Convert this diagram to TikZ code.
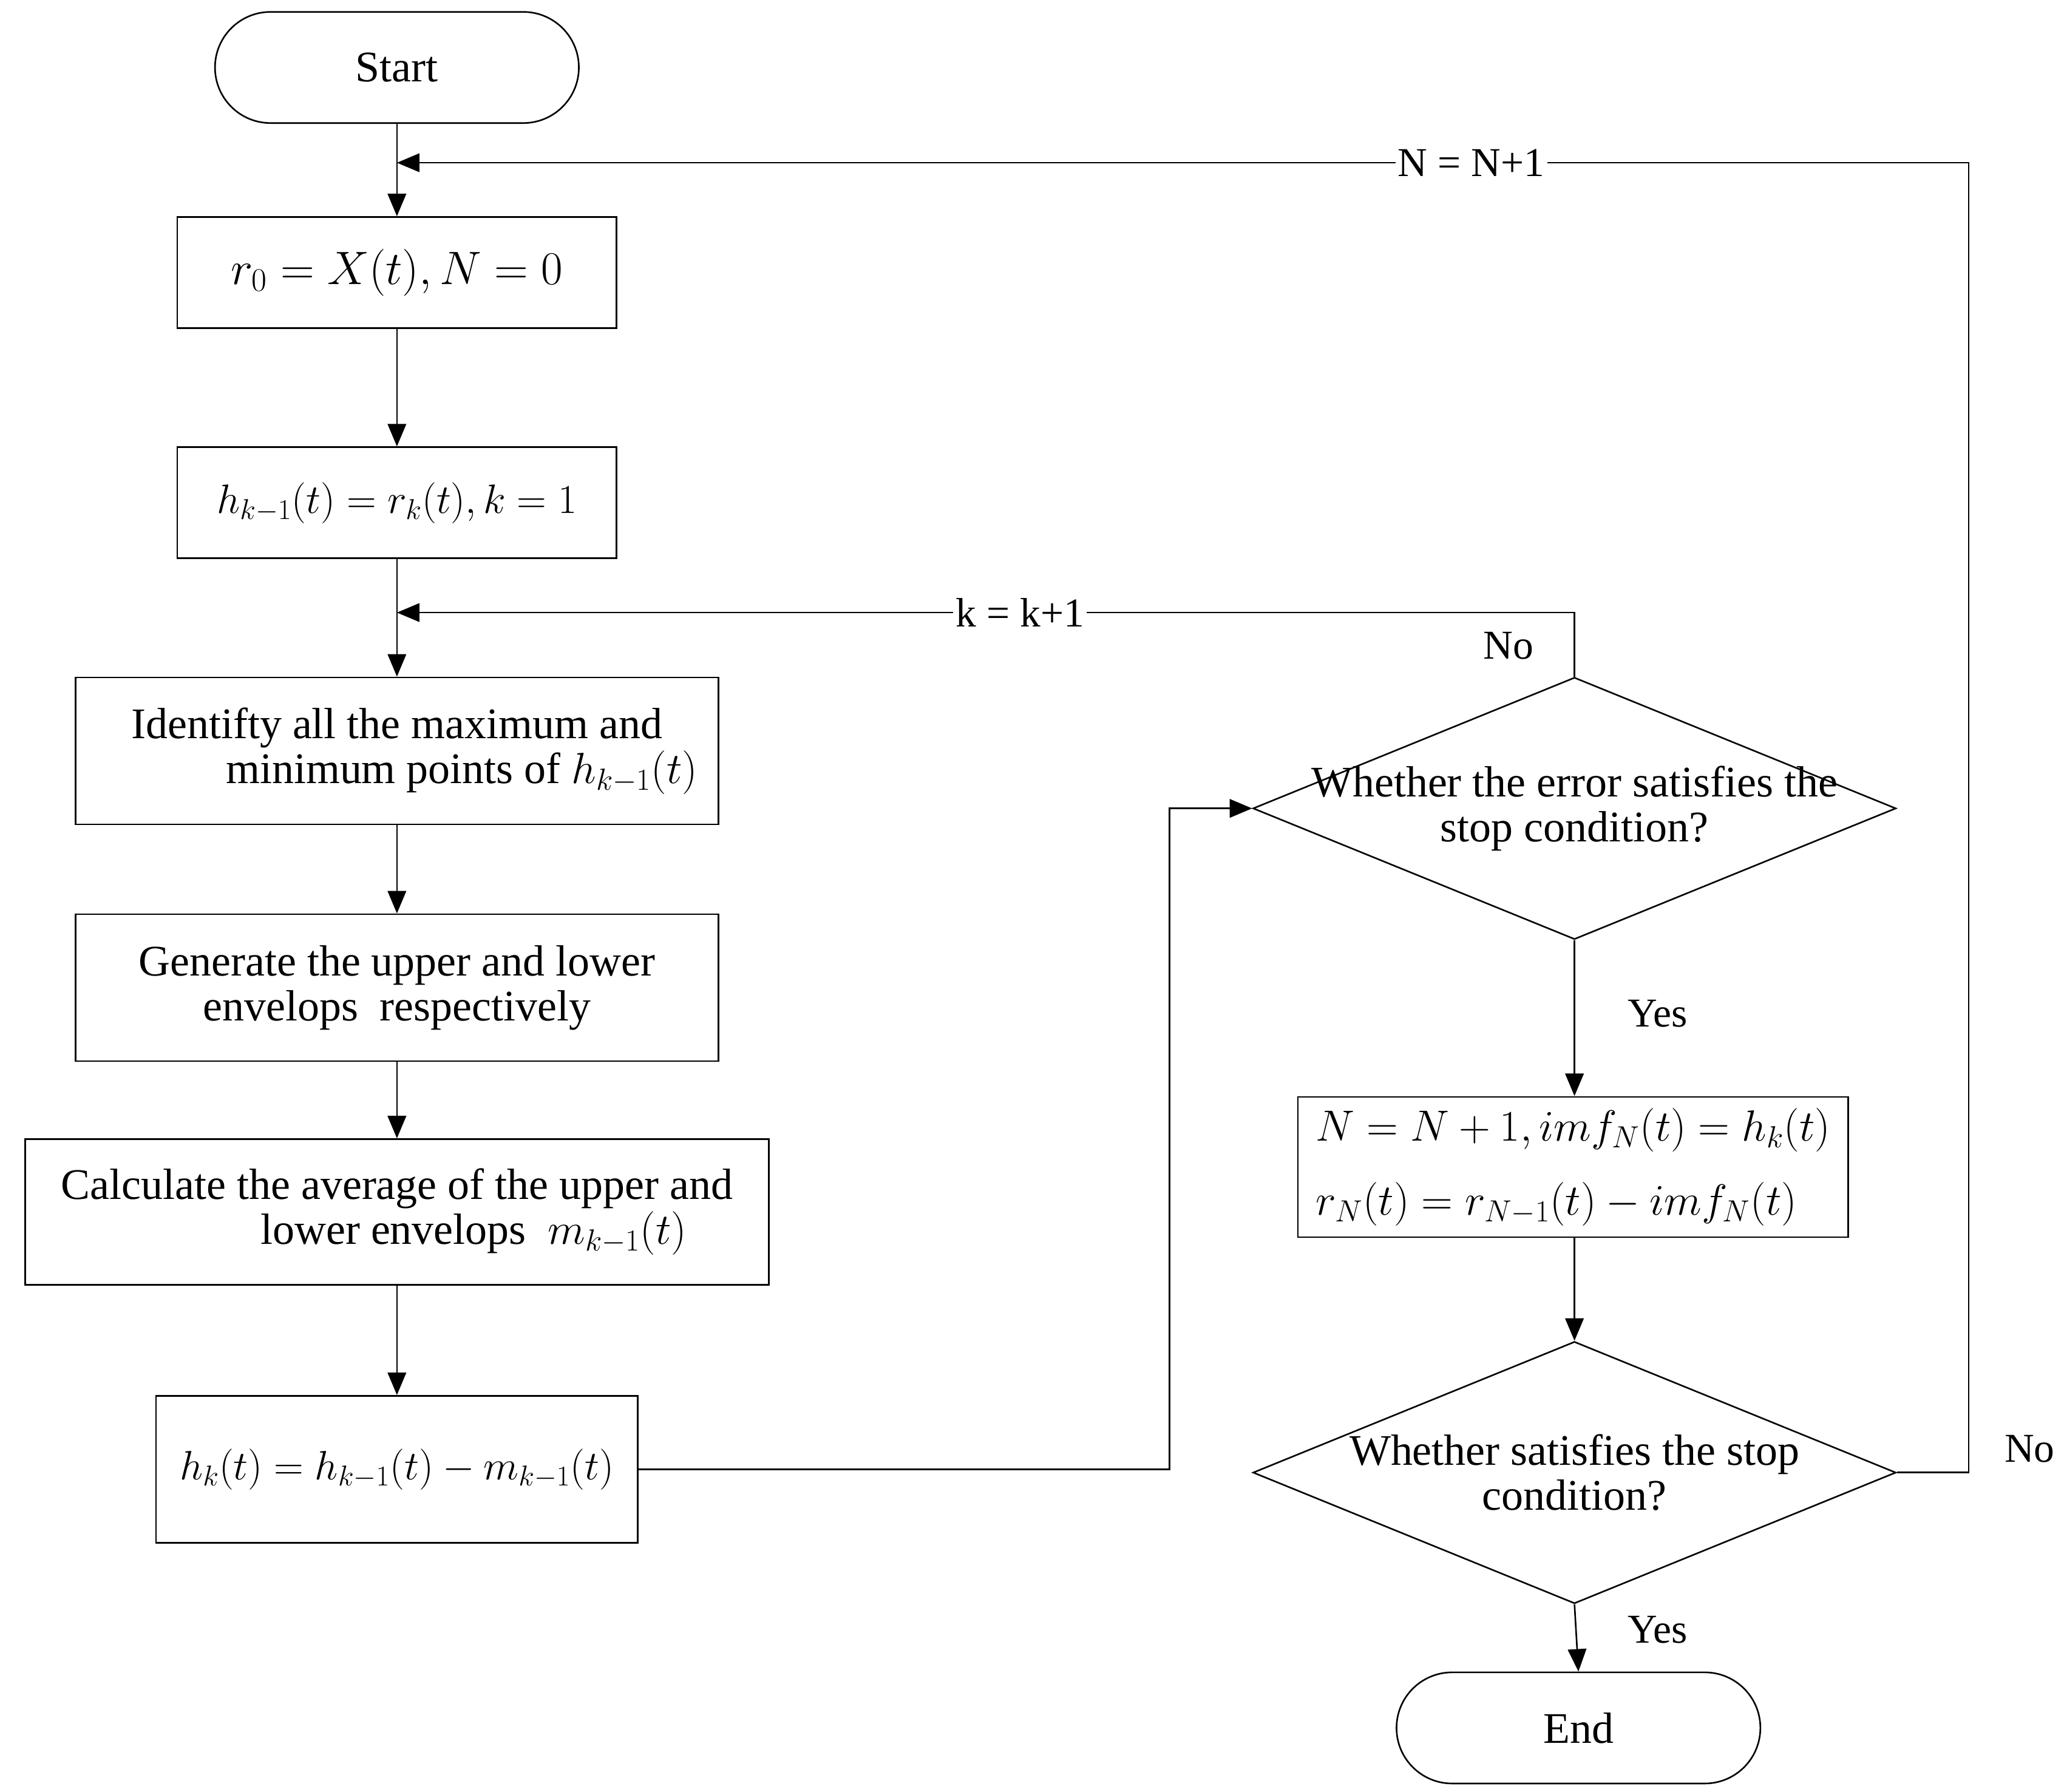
\RequirePackage{fix-cm}
\documentclass[tikz,border=0pt]{standalone}
\usepackage{fontspec}
\setmainfont{Liberation Serif}
\usetikzlibrary{shapes.geometric,arrows.meta}
\begin{document}
\begin{tikzpicture}[x=1pt,y=-1pt,
  every node/.style={font=\fontsize{33}{34}\selectfont},
  proc/.style={draw, line width=1.2pt, rectangle, inner sep=0pt, align=center},
  term/.style={draw, line width=1.2pt, rectangle, rounded corners=42pt, minimum width=275pt, minimum height=84pt, inner sep=0pt},
  dec/.style={draw, line width=1.2pt, diamond, inner sep=0pt, minimum width=486pt, minimum height=198pt},
  dectext/.style={align=center, inner sep=0pt},
  conn/.style={line width=1.2pt, -{Triangle[length=17pt,width=14pt]}},
  lbl/.style={fill=white, inner sep=2pt, font=\fontsize{31}{34}\selectfont},
  note/.style={inner sep=0pt, font=\fontsize{31}{34}\selectfont},
  mth/.style={font=\fontsize{33}{56}\selectfont},
  mthbig/.style={font=\fontsize{35.5}{40}\selectfont},
  mthsmall/.style={font=\fontsize{31}{40}\selectfont}
]
\useasboundingbox (0,0) rectangle (1560,1354);
% left column
\node[term] (start) at (300,51) {Start};
\node[proc, mthbig, minimum width=332pt, minimum height=84pt] (r0) at (300,206) {$r_0 = X(t), N = 0$};
\node[proc, mthsmall, minimum width=332pt, minimum height=84pt] (hk1) at (300,380) {$h_{k-1}(t) = r_k(t), k = 1$};
\node[proc, minimum width=486pt, minimum height=111pt] (ident) at (300,567.5) {Identifty all the maximum and\\\hspace*{98pt}minimum points of $h_{k-1}(t)$};
\node[proc, minimum width=486pt, minimum height=111pt] (gen) at (300,746.5) {Generate the upper and lower\\envelops\ \ respectively};
\node[proc, minimum width=562pt, minimum height=110pt] (calc) at (300,916) {Calculate the average of the upper and\\\hspace*{116pt}lower envelops\ \ $m_{k-1}(t)$};
\node[proc, mthsmall, minimum width=364pt, minimum height=111pt] (hk) at (300,1110.5) {$h_k(t) = h_{k-1}(t) - m_{k-1}(t)$};
% right column
\node[dec] (d1) at (1190,611) {};
\node[dectext] (t1) at (1190,611) {Whether the error satisfies the\\stop condition?};
\node[proc, mth, align=left, minimum width=416pt, minimum height=106pt] (nbox) at (1189,882) {$N = N+1, imf_N(t) = h_k(t)$\\$r_N(t) = r_{N-1}(t) - imf_N(t)$};
\node[dec] (d2) at (1190,1113) {};
\node[dectext] (t2) at (1190,1113) {Whether satisfies the stop\\condition?};
\node[term] (end) at (1193,1306) {End};
% junctions
\coordinate (j1) at (300,123);
\coordinate (j2) at (300,463);
\coordinate (nr) at (1488,1113);
\coordinate (nt) at (1488,123);
\coordinate (hb) at (884,1110.5);
% connectors
\draw[conn] (start) -- (r0);
\draw[conn] (r0) -- (hk1);
\draw[conn] (hk1) -- (ident);
\draw[conn] (ident) -- (gen);
\draw[conn] (gen) -- (calc);
\draw[conn] (calc) -- (hk);
\draw[conn] (hk.east) -- (hb) |- (d1.west);
\draw[conn] (d1.north) |- (j2);
\draw[conn] (d1.south) -- (d1.south |- nbox.north);
\draw[conn] (d1.south |- nbox.south) -- (d2.north);
\draw[conn] (d2.south) -- (end.north);
\draw[conn] (d2.east) -- (nr) -- (nt) -- (j1);
% labels
\node[lbl] (lN) at (1112,123) {N = N+1};
\node[lbl] (lk) at (771,463) {k = k+1};
\node[note] (no1) at (1140,488) {No};
\node[note] (yes1) at (1253,766) {Yes};
\node[note] (no2) at (1534,1095) {No};
\node[note] (yes2) at (1253,1232) {Yes};
\end{tikzpicture}
\end{document}
